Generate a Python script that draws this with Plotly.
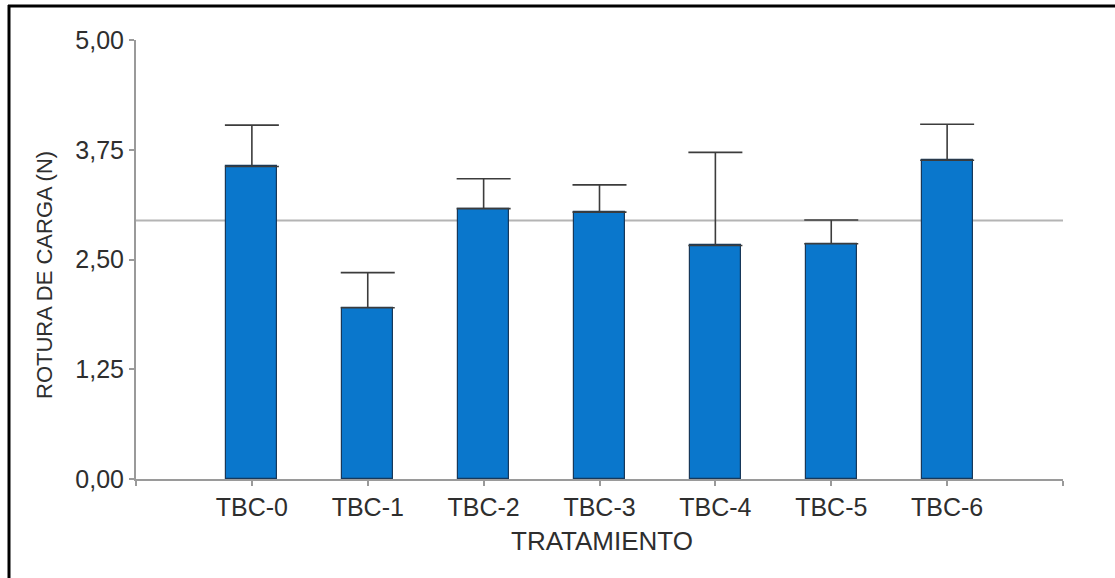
import plotly.graph_objects as go

# Treatment groups and measured load-at-break (mean and upper SD)
categories = ["TBC-0", "TBC-1", "TBC-2", "TBC-3", "TBC-4", "TBC-5", "TBC-6"]
means = [3.56, 1.95, 3.08, 3.04, 2.66, 2.68, 3.63]
sd = [0.47, 0.40, 0.34, 0.31, 1.06, 0.27, 0.41]
y_ticks = [0.0, 1.25, 2.5, 3.75, 5.0]
y_tick_labels = ["0,00", "1,25", "2,50", "3,75", "5,00"]

positions = list(range(len(categories)))
grand_mean = sum(means) / len(means)

W, H = 1115, 578
ml, mr, mt, mb = 136, 52, 40, 99
pw, ph = W - ml - mr, H - mt - mb

def px_x(px):
    return (px - ml) / pw

def px_y(py):
    return (H - mb - py) / ph

font_family = "Liberation Sans, Arial, sans-serif"
text_color = "#2e2e2e"
axis_color = "#9a9a9a"

fig = go.Figure()
fig.add_trace(go.Bar(
    x=positions,
    y=means,
    width=0.44,
    marker=dict(color="#0a77cc", line=dict(color="#17385a", width=1.2)),
    error_y=dict(type="data", symmetric=False, array=sd,
                 arrayminus=[0] * len(sd), color="#3c3c3c",
                 thickness=1.6, width=27),
    showlegend=False,
))

# Overall mean reference line behind the bars
fig.add_shape(type="line", xref="x", yref="y", x0=-1, x1=7,
              y0=grand_mean, y1=grand_mean, layer="below",
              line=dict(color="#b4b4b4", width=2))

# Frame lines along the top and left edges
fig.add_shape(type="line", xref="paper", yref="paper",
              x0=px_x(8), x1=px_x(W + 5), y0=px_y(6), y1=px_y(6),
              line=dict(color="black", width=3))
fig.add_shape(type="line", xref="paper", yref="paper",
              x0=px_x(9), x1=px_x(9), y0=px_y(5), y1=px_y(H + 5),
              line=dict(color="black", width=3))

fig.add_annotation(text="ROTURA DE CARGA (N)", xref="paper", yref="paper",
                   x=px_x(44), y=px_y(275), xanchor="center", yanchor="middle",
                   textangle=-90, showarrow=False,
                   font=dict(family=font_family, size=22, color=text_color))
fig.add_annotation(text="TRATAMIENTO", xref="paper", yref="paper",
                   x=px_x(602), y=px_y(541), xanchor="center", yanchor="middle",
                   showarrow=False,
                   font=dict(family=font_family, size=26, color=text_color))

fig.update_xaxes(
    range=[-1, 7],
    tickvals=[-1] + positions + [7],
    ticktext=[""] + categories + [""],
    showline=True, linecolor=axis_color, linewidth=2,
    ticks="outside", ticklen=5, tickcolor=axis_color, tickwidth=1.5,
    showgrid=False, zeroline=False,
    tickfont=dict(family=font_family, size=25, color=text_color),
)
fig.update_yaxes(
    range=[0, 5],
    tickvals=y_ticks,
    ticktext=y_tick_labels,
    showline=True, linecolor=axis_color, linewidth=2,
    ticks="outside", ticklen=5, tickcolor=axis_color, tickwidth=1.5,
    showgrid=False, zeroline=False,
    tickfont=dict(family=font_family, size=25, color=text_color),
)

fig.update_layout(
    width=W, height=H,
    margin=dict(l=ml, r=mr, t=mt, b=mb),
    plot_bgcolor="white", paper_bgcolor="white",
    bargap=0,
)

fig.write_html("out.html")
